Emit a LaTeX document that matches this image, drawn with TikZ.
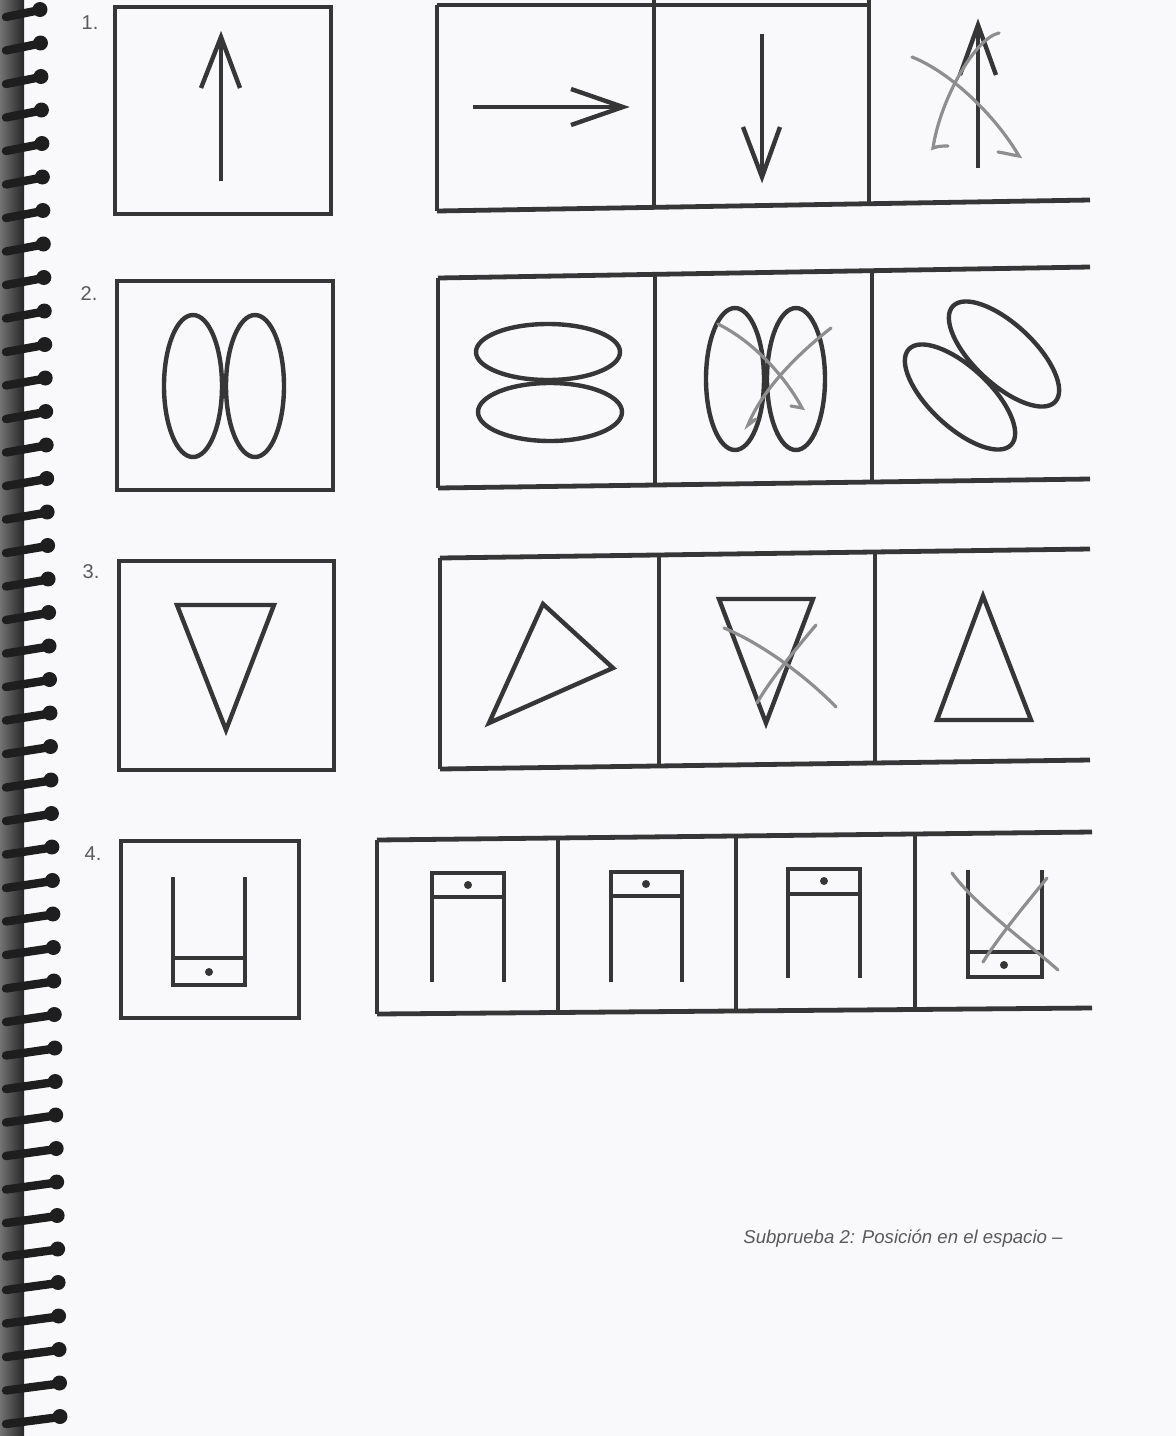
\documentclass[tikz,border=0pt]{standalone}
\usepackage{fontspec}
\setmainfont{Liberation Sans}
\definecolor{inkc}{HTML}{363636}
\definecolor{pencilc}{HTML}{8E8E8E}
\definecolor{numc}{HTML}{5A5A5A}
\definecolor{pagec}{HTML}{F9F9FB}
\definecolor{coilc}{HTML}{1E1E1E}
\begin{document}
\begin{tikzpicture}[x=0.5pt,y=-0.5pt,
  frame/.style={draw=inkc, line width=2.4pt, line cap=butt},
  fig/.style={draw=inkc, line width=2.2pt, line join=miter},
  pencil/.style={draw=pencilc, line width=1.6pt, line cap=round},
  num/.style={font=\fontsize{10}{12}\selectfont, text=numc, inner sep=0pt},
  coil/.style={draw=coilc, line width=4.2pt, line cap=round},
  dotm/.style={fill=inkc}
]
\fill[pagec] (0,0) rectangle (1176,1436);
\useasboundingbox (0,0) rectangle (1176,1436);

% spiral binding
\shade[left color=black!55, right color=black!85] (0,0) rectangle (24,1436);
\foreach \i in {0,...,42}{
  \pgfmathsetmacro\yy{10+33.5*\i}
  \pgfmathsetmacro\xr{40+20*\i/42}
  \draw[coil] (6,\yy+7) -- (\xr,\yy);
  \fill[coilc] (\xr,\yy-0.5) circle[radius=7.5];
}

% ---------------- Row 1 ----------------
\node[num] (n1) at (90,23) {1.};
\draw[frame] (115,7) rectangle (331,214);
\draw[fig] (221,181) -- (221,40);
\draw[fig] (201,88) -- (221,37) -- (240,88);

\draw[frame] (437,5) -- (869,5);
\draw[frame] (437,211) -- (1090,200);
\draw[frame] (437,5) -- (437,211);
\draw[frame] (654,0) -- (654,207.3);
\draw[frame] (869,0) -- (869,203.7);
% right arrow
\draw[fig] (473,107) -- (620,107);
\draw[fig] (571,89) -- (623,107) -- (571,125);
% down arrow
\draw[fig] (762,34) -- (762,174);
\draw[fig] (743,127) -- (762,177) -- (780,127);
% up arrow, crossed
\draw[fig] (978,168) -- (978,28);
\draw[fig] (960,75) -- (978,25) -- (996,75);
\draw[pencil] (912,57) .. controls (950,72) and (995,115) .. (1019,156) .. controls (1012,155) and (1005,153) .. (998,152);
\draw[pencil] (999,33) .. controls (975,38) and (940,100) .. (933,148) .. controls (938,146) and (943,146) .. (948,146);

% ---------------- Row 2 ----------------
\node[num] (n2) at (89,294) {2.};
\draw[frame] (117,281) rectangle (333,490);
\draw[fig] (193,386) ellipse[x radius=29, y radius=71];
\draw[fig] (255,386) ellipse[x radius=29, y radius=71];

\draw[frame] (438,278) -- (1090,267);
\draw[frame] (438,488) -- (1090,479);
\draw[frame] (438,278) -- (438,488);
\draw[frame] (655,274.3) -- (655,485);
\draw[frame] (872,270.7) -- (872,482);
\draw[fig] (548,352) ellipse[x radius=72, y radius=28];
\draw[fig] (550,412) ellipse[x radius=72, y radius=29];
\draw[fig] (735,379) ellipse[x radius=29, y radius=71];
\draw[fig] (796,379) ellipse[x radius=29, y radius=71];
\draw[pencil] (718,324) .. controls (760,345) and (790,385) .. (802,408) -- (791,406);
\draw[pencil] (831,328) .. controls (790,360) and (760,395) .. (748,425) -- (756,419);
\draw[fig, rotate around={-43:(1004,354)}] (1004,354) ellipse[x radius=70, y radius=30];
\draw[fig, rotate around={-43:(960,397)}] (960,397) ellipse[x radius=70, y radius=30];

% ---------------- Row 3 ----------------
\node[num] (n3) at (91,572) {3.};
\draw[frame] (119,561) rectangle (334,770);
\draw[fig] (177,605) -- (274,605) -- (226,730) -- cycle;

\draw[frame] (440,558) -- (1090,549);
\draw[frame] (440,769) -- (1090,760);
\draw[frame] (440,558) -- (440,769);
\draw[frame] (659,555) -- (659,766);
\draw[frame] (875,552) -- (875,763);
\draw[fig] (543,604) -- (613,668) -- (489,723) -- cycle;
\draw[fig] (719,599) -- (813,599) -- (766,723) -- cycle;
\draw[pencil] (724,628) .. controls (765,645) and (810,680) .. (836,707);
\draw[pencil] (816,625) .. controls (795,650) and (770,680) .. (757,703);
\draw[fig] (983,596) -- (1031,720) -- (937,720) -- cycle;

% ---------------- Row 4 ----------------
\node[num] (n4) at (93,854) {4.};
\draw[frame] (121,841) rectangle (299,1018);
\draw[fig] (173,877) -- (173,985) -- (245,985) -- (245,877);
\draw[fig] (173,958) -- (245,958);
\fill[dotm] (209,972) circle[radius=4];

\draw[frame] (377,840) -- (1092,832);
\draw[frame] (377,1014) -- (1092,1008);
\draw[frame] (377,840) -- (377,1014);
\draw[frame] (558,838) -- (558,1012.5);
\draw[frame] (736,836) -- (736,1011);
\draw[frame] (915,834) -- (915,1009.5);

\draw[fig] (432,982) -- (432,873) -- (504,873) -- (504,982);
\draw[fig] (432,897) -- (504,897);
\fill[dotm] (468,885) circle[radius=4];

\draw[fig] (611,982) -- (611,872) -- (682,872) -- (682,982);
\draw[fig] (611,896) -- (682,896);
\fill[dotm] (646,884) circle[radius=4];

\draw[fig] (788,978) -- (788,869) -- (860,869) -- (860,978);
\draw[fig] (788,894) -- (860,894);
\fill[dotm] (824,881) circle[radius=4];

\draw[fig] (968,870) -- (968,977) -- (1042,977) -- (1042,870);
\draw[fig] (968,952) -- (1042,952);
\fill[dotm] (1004,965) circle[radius=4];
\draw[pencil] (952,873) .. controls (975,905) and (1030,945) .. (1058,970);
\draw[pencil] (1047,878) .. controls (1025,905) and (1000,935) .. (983,962);

% footer
\node[anchor=base west, inner sep=0pt, font=\itshape\fontsize{9.3}{11}\selectfont, text=numc] (foot) at (743,1243) {Subprueba 2: Posición en el espacio –};
\end{tikzpicture}
\end{document}
